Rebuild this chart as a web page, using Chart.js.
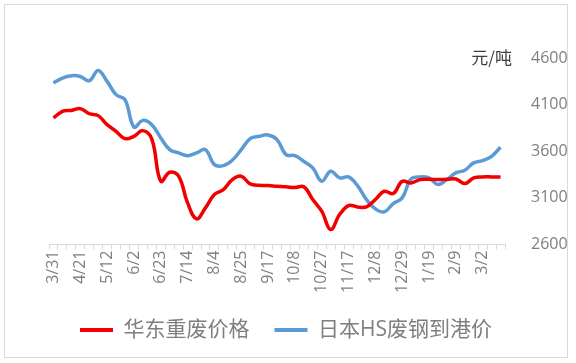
<!DOCTYPE html>
<html>
<head>
<meta charset="utf-8">
<script src="https://cdn.jsdelivr.net/npm/chart.js@4/dist/chart.umd.min.js"></script>
<style>
  body { margin: 0; background: #fff; }
  #box { position: absolute; left: 4px; top: 4px; width: 562px; height: 352px; border: 1px solid #d9d9d9; }
  #myChart { display: block; }
</style>
</head>
<body>
<div id="box"><canvas id="myChart" width="562" height="352"></canvas></div>
<script>
//DATA
//-----------------------------------------

//weekly dates (only every third one is printed on the axis)
let dates = ['3/31','4/7','4/14','4/21','4/28','5/5','5/12','5/19','5/26','6/2',
  '6/9','6/16','6/23','6/30','7/7','7/14','7/21','7/28','8/4','8/11',
  '8/18','8/25','9/1','9/8','9/17','9/24','9/30','10/8','10/13','10/20',
  '10/27','11/3','11/10','11/17','11/24','12/1','12/8','12/15','12/22','12/29',
  '1/5','1/12','1/19','1/26','2/2','2/9','2/16','2/23','3/2','3/9','3/16']

//华东重废价格
let eastChinaScrap = [3957,4028,4038,4057,4003,3982,3885,3814,3735,3760,
  3821,3730,3278,3375,3332,3046,2875,2993,3136,3189,
  3296,3332,3250,3235,3232,3225,3220,3210,3220,3082,
  2957,2761,2921,3018,3003,3003,3082,3171,3146,3278,
  3260,3296,3300,3296,3300,3303,3253,3314,3325,3325,3325]

//日本HS废钢到港价
let japanHsScrap = [4332,4385,4410,4402,4356,4467,4349,4207,4153,3860,
  3931,3885,3743,3617,3582,3553,3582,3617,3457,3446,
  3503,3617,3735,3760,3775,3725,3564,3553,3492,3421,
  3278,3385,3314,3325,3232,3082,2982,2950,3039,3100,
  3303,3325,3314,3243,3296,3368,3396,3475,3500,3546,3642]

//right axis ticks
let yTicks = [2600, 3100, 3600, 4100, 4600]
let unitLabel = '元/吨'

//-----------------------------------------

let latinFont = "'Open Sans', 'Noto Sans CJK SC', sans-serif"
let gray = '#7f7f7f'

//draws the unit text above the right axis
let unitPlugin = {
  id: 'unitText',
  afterDraw(chart) {
    let c = chart.ctx
    let y = chart.scales.y.getPixelForValue(yTicks[yTicks.length - 1])
    c.save()
    c.font = "17px 'Noto Sans CJK SC', sans-serif"
    c.fillStyle = '#404040'
    c.textAlign = 'right'
    c.textBaseline = 'middle'
    c.fillText(unitLabel, chart.chartArea.right + 7, y)
    c.restore()
  }
}

var ctx = document.getElementById('myChart').getContext('2d');
var mychart = new Chart(ctx, {
  type: 'line',
  data: {
    labels: dates,
    datasets: [{
      label: '华东重废价格',
      data: eastChinaScrap,
      borderColor: '#f20000',
      backgroundColor: '#f20000',
      borderWidth: 3.5,
      pointRadius: 0,
      tension: 0.4
    }, {
      label: '日本HS废钢到港价',
      data: japanHsScrap,
      borderColor: '#5b9bd5',
      backgroundColor: '#5b9bd5',
      borderWidth: 3.5,
      pointRadius: 0,
      tension: 0.4
    }]
  },
  options: {
    responsive: false,
    animation: false,
    layout: { padding: { left: 0, right: 0, top: 53, bottom: 6.5 } },
    plugins: {
      tooltip: { enabled: false },
      legend: {
        position: 'bottom',
        maxHeight: 56,
        labels: {
          boxWidth: 33,
          boxHeight: 4,
          padding: 25,
          color: gray,
          font: { size: 21, family: latinFont },
          generateLabels(chart) {
            return Chart.defaults.plugins.legend.labels.generateLabels(chart).map(function (item) {
              item.lineWidth = 0
              item.fillStyle = item.strokeStyle
              return item
            })
          }
        }
      }
    },
    scales: {
      x: {
        offset: true,
        grid: { offset: true, drawOnChartArea: false, drawTicks: true, tickLength: 5, color: '#d9d9d9' },
        border: { display: true, color: '#d9d9d9' },
        ticks: {
          autoSkip: false,
          minRotation: 90,
          maxRotation: 90,
          padding: 1,
          color: gray,
          font: { size: 16, family: latinFont },
          callback: function (val, idx) { return idx % 3 === 0 ? dates[idx] : '' }
        },
        afterFit: function (scale) { scale.height = 50 }
      },
      //empty left axis, only keeps the gap left of the plot
      leftGap: {
        type: 'linear',
        position: 'left',
        grid: { display: false },
        border: { display: false },
        ticks: { display: false },
        afterFit: function (scale) { scale.width = 44 }
      },
      y: {
        position: 'right',
        min: 2600,
        max: 4600,
        grid: { display: false },
        border: { display: false },
        ticks: {
          padding: 18,
          color: gray,
          font: { size: 16, family: latinFont },
          callback: function (val) { return String(val) }
        },
        afterBuildTicks: function (scale) { scale.ticks = yTicks.map(function (v) { return { value: v } }) },
        afterFit: function (scale) { scale.width = 62 }
      }
    }
  },
  plugins: [unitPlugin]
});
</script>
</body>
</html>
